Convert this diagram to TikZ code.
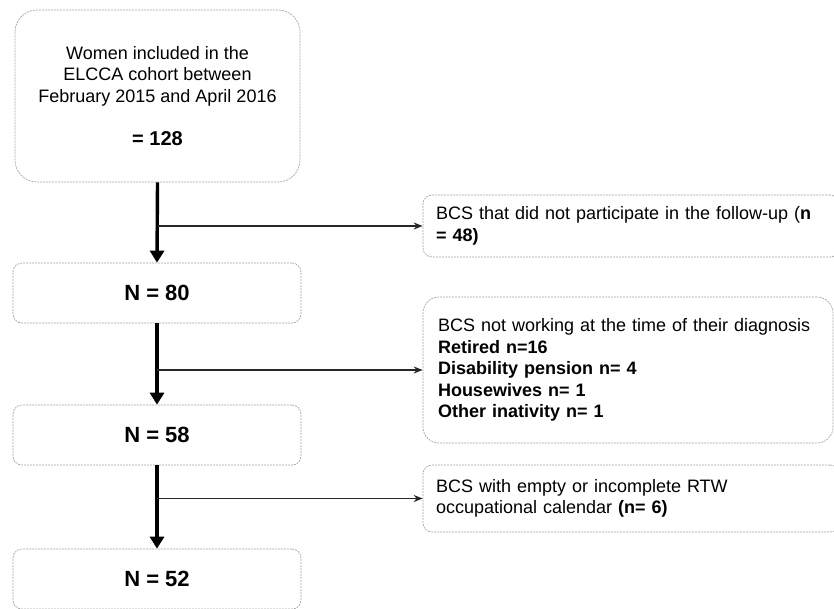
\documentclass[tikz,border=0pt]{standalone}
\usepackage{fontspec}
\setmainfont{Liberation Sans}
\usetikzlibrary{arrows.meta}

\tikzset{
  flowbox/.style={draw=black!35, dashed, dash pattern=on 2pt off 1pt, line width=0.7pt,
    fill=white, inner sep=0pt, font=\fontsize{18}{21.6}\selectfont},
  countbox/.style={flowbox, rounded corners=9pt, minimum width=288pt, minimum height=60pt,
    font=\fontsize{22}{26}\selectfont\bfseries},
  sidebox/.style={flowbox, rounded corners=9pt, align=left, text width=400pt},
  mainarrow/.style={line width=3.4pt, -{Triangle[length=12pt,width=14pt]}},
  sidearrow/.style={line width=1.4pt, black!85, -{Stealth[length=9pt,width=7pt]}}
}

\begin{document}
\begin{tikzpicture}[x=1pt,y=-1pt]
        \useasboundingbox (0,0) rectangle (834,608);
        \clip (0,0) rectangle (834,608);
        % left column
        \node [flowbox, rounded corners=22pt, minimum width=285pt, minimum height=172pt, align=center] (cohort) at (157.5,96)
          {Women included in the\\ELCCA cohort between\\February 2015 and April 2016\\[22pt]{\fontsize{20}{24}\selectfont\bfseries = 128}};
        \node [countbox] (n80) at (157,293) {N = 80};
        \node [countbox] (n58) at (157,435) {N = 58};
        \node [countbox] (n52) at (157,579) {N = 52};
        % right column
        \node [sidebox, minimum height=62pt, text width=390pt, minimum width=416pt] (lost) at (631,226)
          {BCS that did not participate in the follow-up (\textbf{n}\\\textbf{= 48)}};
        \node [sidebox, rounded corners=16pt, minimum height=146pt, text width=380pt, minimum width=410pt] (inactive) at (628,370)
          {BCS not working at the time of their diagnosis\\\textbf{Retired n=16}\\\textbf{Disability pension n= 4}\\\textbf{Housewives n= 1}\\\textbf{Other inativity n= 1}};
        \node [sidebox, minimum height=67pt, text width=390pt, minimum width=416pt] (calendar) at (631,498.5)
          {BCS with empty or incomplete RTW\\occupational calendar \textbf{(n= 6)}};
        % arrows
        \draw [mainarrow] (cohort.south) -- (n80.north);
        \draw [mainarrow] (n80.south) -- (n58.north);
        \draw [mainarrow] (n58.south) -- (n52.north);
        \draw [sidearrow] (cohort.south |- lost.west) -- (lost.west);
        \draw [sidearrow] (n80.south |- inactive.west) -- (inactive.west);
        \draw [sidearrow] (n58.south |- calendar.west) -- (calendar.west);
\end{tikzpicture}
\end{document}
